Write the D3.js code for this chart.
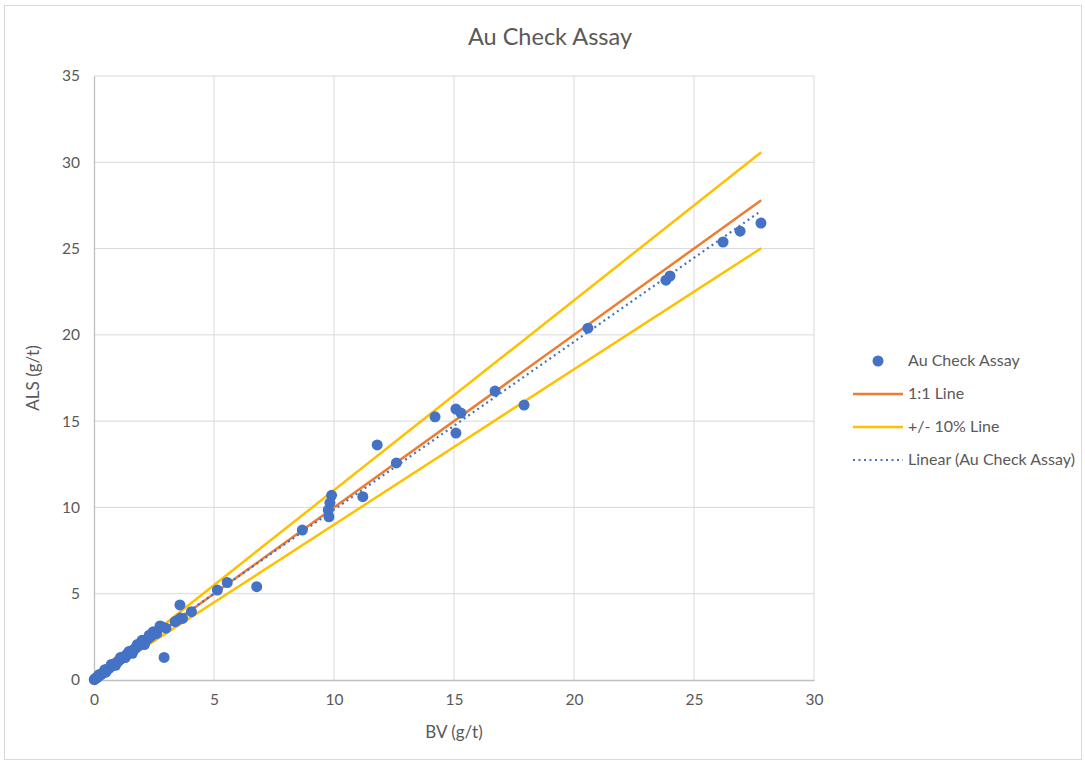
<!DOCTYPE html>
<html>
<head>
<meta charset="utf-8">
<script src="https://cdn.jsdelivr.net/npm/d3@7"></script>
<style>
  body { margin: 0; background: #fff; }
  text { font-family: Lato, "Open Sans", sans-serif; fill: #595959; }
</style>
</head>
<body>
<svg id="chart" width="1085" height="763"></svg>
<script>
// check assay pairs, BV on x, ALS on y (g/t)
var bv = [0.01, 0.03, 0.05, 0.07, 0.1, 0.12, 0.15, 0.18, 0.22, 0.26, 0.3, 0.35, 0.42, 0.48,
  0.55, 0.62, 0.7, 0.78, 0.85, 0.93, 1.0, 1.08, 1.15, 1.24, 1.32, 1.4, 1.5, 1.58, 1.67,
  1.75, 1.85, 1.95, 2.05, 2.15, 2.25, 2.35, 2.45, 2.47, 2.61, 2.75, 2.82, 3.0, 2.92,
  3.38, 3.44, 3.58, 3.61, 3.69, 4.06, 5.14, 5.55, 6.78, 8.68, 9.76, 9.79, 9.83, 9.9,
  11.2, 11.8, 12.6, 14.21, 15.08, 15.08, 15.29, 16.71, 17.92, 20.58, 23.83, 24.0,
  26.21, 26.92, 27.79,
  0.2, 0.45, 0.5, 0.72, 0.9, 1.1, 1.3, 1.45, 1.6, 1.8, 2.0, 2.1, 2.3];
var als = [0.02, 0.05, 0.08, 0.09, 0.12, 0.15, 0.17, 0.2, 0.25, 0.3, 0.33, 0.38, 0.46, 0.55,
  0.62, 0.68, 0.76, 0.84, 0.92, 1.0, 1.08, 1.16, 1.25, 1.33, 1.42, 1.5, 1.6, 1.68, 1.78,
  1.86, 1.98, 2.1, 2.22, 2.3, 2.4, 2.5, 2.62, 2.8, 2.7, 3.13, 3.09, 3.0, 1.31,
  3.38, 3.44, 4.35, 3.59, 3.57, 3.96, 5.21, 5.65, 5.41, 8.69, 9.85, 9.46, 10.27, 10.7,
  10.62, 13.62, 12.58, 15.25, 15.7, 14.31, 15.47, 16.74, 15.93, 20.39, 23.17, 23.41,
  25.38, 26.01, 26.48,
  0.3, 0.6, 0.45, 0.9, 0.85, 1.3, 1.3, 1.65, 1.55, 2.05, 2.3, 2.05, 2.6];

var xTicks = [0, 5, 10, 15, 20, 25, 30];
var yTicks = [0, 5, 10, 15, 20, 25, 30, 35];
var lineMax = 27.8;
var legendNames = ["Au Check Assay", "1:1 Line", "+/- 10% Line", "Linear (Au Check Assay)"];

var svg = d3.select("#chart");
var margin = {top: 76, left: 94, right: 271, bottom: 83};
var width = 1085, height = 763;

var x = d3.scaleLinear().domain([0, 30]).range([margin.left, width - margin.right]);
var y = d3.scaleLinear().domain([0, 35]).range([height - margin.bottom, margin.top]);

// outer frame
svg.append("rect")
  .attr("x", 4.5).attr("y", 5.5)
  .attr("width", 1077).attr("height", 754)
  .attr("fill", "none").attr("stroke", "#d9d9d9");

// grid
svg.append("g").selectAll("line.gx")
  .data(xTicks.slice(1)).enter().append("line")
  .attr("x1", d => x(d)).attr("x2", d => x(d))
  .attr("y1", y(0)).attr("y2", y(35))
  .attr("stroke", "#d9d9d9");
svg.append("g").selectAll("line.gy")
  .data(yTicks.slice(1)).enter().append("line")
  .attr("x1", x(0)).attr("x2", x(30))
  .attr("y1", d => y(d)).attr("y2", d => y(d))
  .attr("stroke", "#d9d9d9");

// axes
var xAxis = svg.append("g")
  .attr("transform", translate(0, y(0)))
  .call(d3.axisBottom(x).tickValues(xTicks).tickSize(0).tickPadding(14));
var yAxis = svg.append("g")
  .attr("transform", translate(x(0), 0))
  .call(d3.axisLeft(y).tickValues(yTicks).tickSize(0).tickPadding(14));
[xAxis, yAxis].forEach(function(a) {
  a.select(".domain").attr("stroke", "#bfbfbf").attr("stroke-width", 1.3);
  a.selectAll("text").style("font-size", "15.5px").attr("fill", "#595959")
    .style("font-family", "Lato, 'Open Sans', sans-serif");
});

// reference lines
var line = d3.line().x(d => x(d[0])).y(d => y(d[1]));
svg.append("path").datum([[0, 0], [lineMax, lineMax * 1.1]]).attr("d", line)
  .attr("stroke", "#ffc000").attr("stroke-width", 2.5).attr("fill", "none");
svg.append("path").datum([[0, 0], [lineMax, lineMax * 0.9]]).attr("d", line)
  .attr("stroke", "#ffc000").attr("stroke-width", 2.5).attr("fill", "none");
svg.append("path").datum([[0, 0], [lineMax, lineMax]]).attr("d", line)
  .attr("stroke", "#ed7d31").attr("stroke-width", 2.5).attr("fill", "none");

// points
var pts = bv.map((v, i) => [v, als[i]]);
svg.append("g").selectAll("circle")
  .data(pts).enter().append("circle")
  .attr("cx", d => x(d[0])).attr("cy", d => y(d[1]))
  .attr("r", 5.5).attr("fill", "#4472c4");

// least squares trend
var mx = d3.mean(bv), my = d3.mean(als);
var sxy = d3.sum(pts, d => (d[0] - mx) * (d[1] - my));
var sxx = d3.sum(bv, v => (v - mx) * (v - mx));
var slope = sxy / sxx, icpt = my - slope * mx;
var x0 = d3.min(bv), x1 = d3.max(bv);
svg.append("path").datum([[x0, icpt + slope * x0], [x1, icpt + slope * x1]]).attr("d", line)
  .attr("stroke", "#4472c4").attr("stroke-width", 2.2).attr("fill", "none")
  .attr("stroke-dasharray", "2,3.5");

// titles
svg.append("text").attr("x", 550).attr("y", 45).attr("text-anchor", "middle")
  .style("font-size", "23.5px").text("Au Check Assay");
svg.append("text").attr("x", 454).attr("y", 738).attr("text-anchor", "middle")
  .style("font-size", "17px").text("BV (g/t)");
svg.append("text").attr("transform", translate(39, 378) + " rotate(-90)")
  .attr("text-anchor", "middle").style("font-size", "17px").text("ALS (g/t)");

// legend
var lg = svg.append("g").attr("transform", translate(853, 361));
lg.append("circle").attr("cx", 25).attr("cy", 0).attr("r", 5.5).attr("fill", "#4472c4");
var legLines = [
  {c: "#ed7d31", dash: null},
  {c: "#ffc000", dash: null},
  {c: "#4472c4", dash: "2,3.5"}
];
legLines.forEach(function(l, i) {
  lg.append("line").attr("x1", 0).attr("x2", 50)
    .attr("y1", 33 * (i + 1)).attr("y2", 33 * (i + 1))
    .attr("stroke", l.c).attr("stroke-width", l.dash ? 2.2 : 2.5)
    .attr("stroke-dasharray", l.dash);
});
lg.selectAll("text.leg").data(legendNames).enter().append("text")
  .attr("x", 55).attr("y", (d, i) => 33 * i + 5)
  .style("font-size", "16px").text(d => d);

function translate(a, b) {
  return 'translate(' + String(a) + ',' + String(b) + ')';
}
</script>
</body>
</html>
